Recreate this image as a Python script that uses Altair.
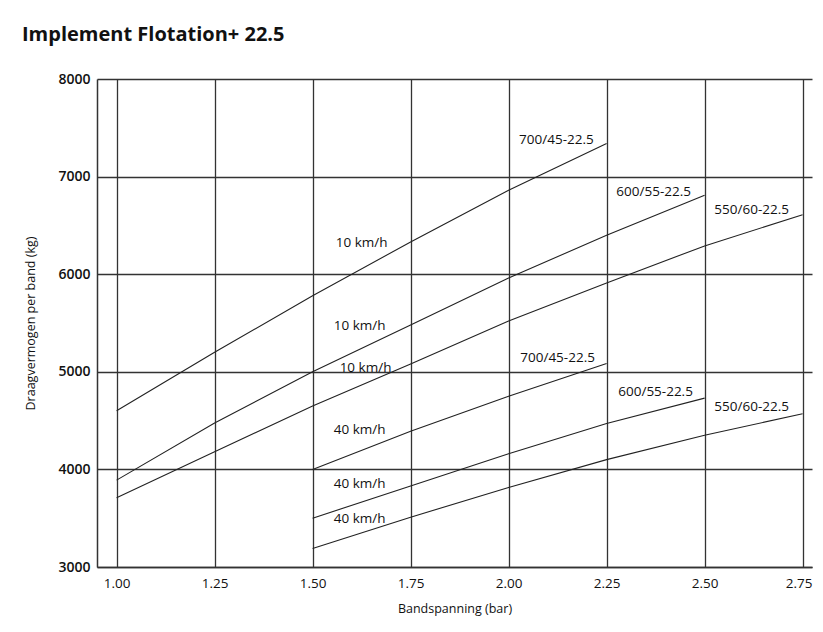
import altair as alt
import pandas as pd

# Data
x_full = [1.00, 1.25, 1.50, 1.75, 2.00, 2.25, 2.50, 2.75]
x_40 = [1.50, 1.75, 2.00, 2.25, 2.50, 2.75]

t700_10 = [4600, 5200, 5780, 6330, 6860, 7340]
t600_10 = [3890, 4475, 5000, 5480, 5960, 6400, 6810]
t550_10 = [3710, 4180, 4650, 5080, 5520, 5910, 6290, 6610]
t700_40 = [4000, 4390, 4750, 5085]
t600_40 = [3500, 3830, 4160, 4470, 4730]
t550_40 = [3190, 3510, 3815, 4100, 4350, 4570]

series = [
    ("700/45-22.5 10", x_full, t700_10),
    ("600/55-22.5 10", x_full, t600_10),
    ("550/60-22.5 10", x_full, t550_10),
    ("700/45-22.5 40", x_40, t700_40),
    ("600/55-22.5 40", x_40, t600_40),
    ("550/60-22.5 40", x_40, t550_40),
]
rows = []
for name, xs, ys in series:
    for xv, yv in zip(xs, ys):
        rows.append({"serie": name, "bar": xv, "kg": yv})
df = pd.DataFrame(rows)

label_text = ["700/45-22.5", "600/55-22.5", "550/60-22.5",
              "10 km/h", "10 km/h", "10 km/h",
              "40 km/h", "40 km/h", "40 km/h",
              "700/45-22.5", "600/55-22.5", "550/60-22.5"]
label_x = [2.122, 2.37, 2.62, 1.625, 1.62, 1.635, 1.62, 1.62, 1.62, 2.125, 2.375, 2.62]
label_y = [7370, 6840, 6655, 6315, 5465, 5035, 4400, 3850, 3490, 5140, 4790, 4640]
labels = pd.DataFrame({"t": label_text, "bar": label_x, "kg": label_y})

x_ticks = [1.00, 1.25, 1.50, 1.75, 2.00, 2.25, 2.50, 2.75]
y_ticks = [3000, 4000, 5000, 6000, 7000, 8000]

FONT = "Open Sans"

xscale = alt.Scale(domain=[0.95, 2.774], nice=False, zero=False)
yscale = alt.Scale(domain=[3000, 8000], nice=False, zero=False)

lines = alt.Chart(df).mark_line(color="#222222", strokeWidth=1.1).encode(
    x=alt.X("bar:Q", scale=xscale,
            axis=alt.Axis(title="Bandspanning (bar)", values=x_ticks, format=".2f",
                          grid=True, gridColor="#333333", gridWidth=1.3, gridOpacity=1,
                          domainColor="#333333", domainWidth=1.5, ticks=False,
                          labelPadding=9, titlePadding=13, labelFontSize=13.5,
                          labelOffset={"condition": {"test": "datum.value >= 2.7", "value": -4}, "value": 0},
                          labelFont=FONT, titleFont=FONT, titleFontSize=12.5,
                          titleFontWeight="normal", labelColor="#111111", titleColor="#111111")),
    y=alt.Y("kg:Q", scale=yscale,
            axis=alt.Axis(title="Draagvermogen per band (kg)", values=y_ticks, format="d",
                          grid=True, gridColor="#333333", gridWidth=1.3, gridOpacity=1,
                          domainColor="#333333", domainWidth=1.5, ticks=False,
                          labelPadding=7, titlePadding=20, labelFontSize=14, labelFontWeight=600,
                          labelFont=FONT, titleFont=FONT, titleFontSize=12.5,
                          titleFontWeight="normal", labelColor="#111111", titleColor="#111111")),
    detail="serie:N",
)

text = alt.Chart(labels).mark_text(fontSize=13.5, font=FONT, color="#111111", baseline="middle").encode(
    x=alt.X("bar:Q", scale=xscale),
    y=alt.Y("kg:Q", scale=yscale),
    text="t:N",
)

chart = alt.layer(lines, text).properties(
    width=715,
    height=488,
    title=alt.TitleParams("Implement Flotation+ 22.5", anchor="start", frame="group", dx=-75,
                          offset=27, fontSize=20, fontWeight="bold", font=FONT, color="#111111"),
    autosize=alt.AutoSizeParams(type="none"),
    padding={"left": 89, "top": 71, "right": 3, "bottom": 50},
).configure_view(stroke=None)

chart.save("out.html", embed_options={"renderer": "svg", "actions": False})
